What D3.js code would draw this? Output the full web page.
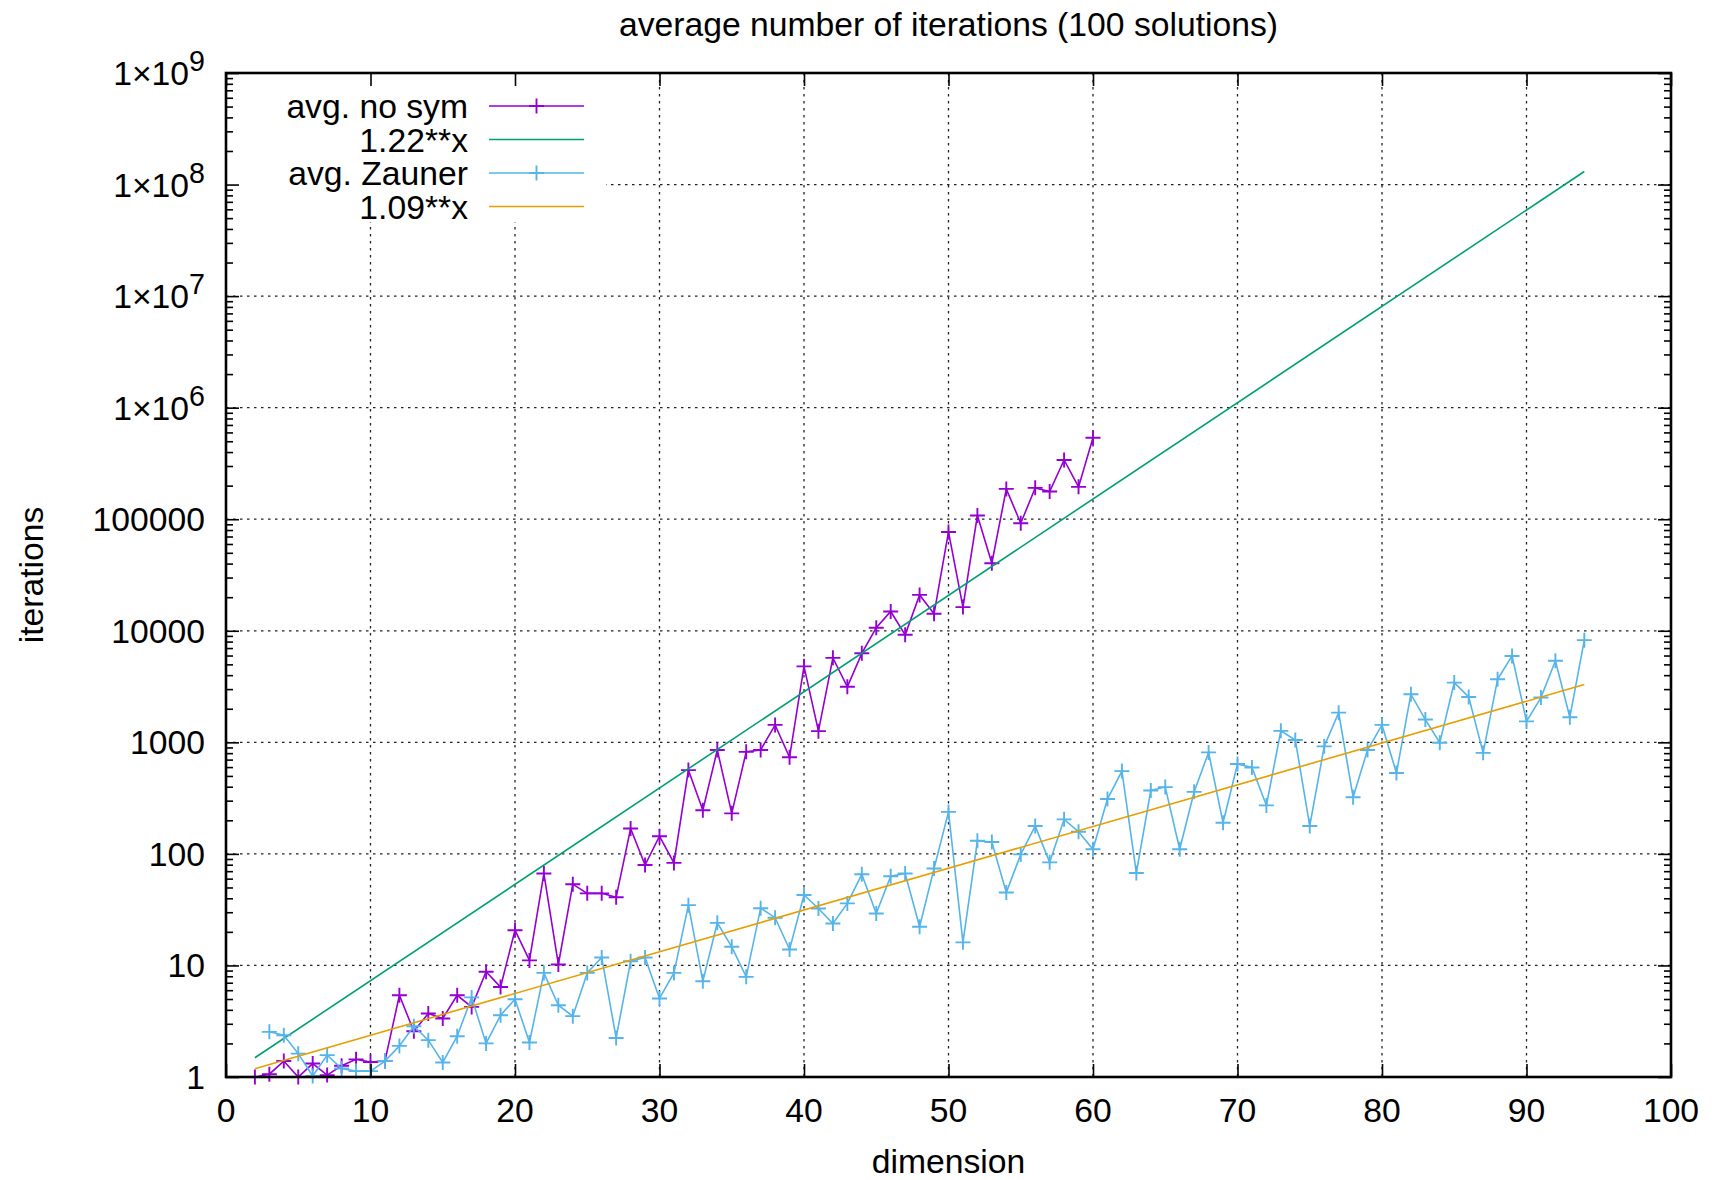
<!DOCTYPE html>
<html>
<head>
<meta charset="utf-8">
<script src="https://cdn.jsdelivr.net/npm/d3@7"></script>
<style>
  body { margin: 0; background: #fff; }
  svg { display: block; font-family: "Liberation Sans", Arial, sans-serif; }
  .grid line { stroke: #222; stroke-width: 1.3; stroke-dasharray: 2.5,4.5; }
</style>
</head>
<body>
<svg id="chart" width="1720" height="1180"></svg>
<script>
// dimensions 2..60 for "no sym", 3..94 for "Zauner"
const noSymDims = d3.range(2, 61);
const noSymValues = [
  1.0, 1.06, 1.39, 1.0, 1.32, 1.04, 1.26, 1.44, 1.36, 1.39,
  5.4, 2.57, 3.71, 3.35, 5.4, 4.25, 8.77, 6.4, 20.7, 11.1,
  66.7, 10.2, 53.5, 44.3, 44.3, 40.8, 169, 79.5, 144, 83,
  564, 246, 854, 231, 822, 854, 1433, 734, 4800, 1260,
  5720, 3150, 6280, 10630, 14900, 9200, 20960, 14200, 76900, 16300,
  108000, 40300, 187000, 92000, 191000, 177000, 340000, 195000, 537000
];

const zaunerDims = d3.range(3, 95);
const zaunerValues = [
  2.54, 2.37, 1.62, 1.02, 1.57, 1.19, 1.13, 1.13, 1.39, 1.90,
  2.85, 2.14, 1.35, 2.32, 5.17, 2.0, 3.58, 4.98, 2.04, 8.57,
  4.4, 3.51, 8.57, 11.8, 2.24, 10.9, 11.8, 5.06, 8.57, 34.7,
  7.22, 24.1, 14.7, 7.9, 32.6, 26.8, 13.9, 42.8, 32.4, 23.8,
  36.0, 65.6, 29.2, 63, 66.7, 22.2, 74, 238, 16.1, 131,
  128, 45.1, 99, 178, 84, 204, 158, 110, 310, 552,
  67.5, 370, 397, 110, 360, 812, 190, 640, 595, 272,
  1268, 1050, 178, 920, 1846, 322, 854, 1433, 531, 2700,
  1600, 992, 3430, 2550, 805, 3680, 5950, 1540, 2520, 5380,
  1680, 8240
];

// fitted curves (straight on log scale): end points
const fitNoSym = [[2, 1.488], [94, 1.31e8]];
const fitZauner = [[2, 1.188], [94, 3294]];

const xTicks = [0, 10, 20, 30, 40, 50, 60, 70, 80, 90, 100];
const yTicks = [1, 10, 100, 1000, 10000, 100000, 1e6, 1e7, 1e8, 1e9];
const yTickLabels = [["1"], ["10"], ["100"], ["1000"], ["10000"], ["100000"],
  ["1×10", "6"], ["1×10", "7"], ["1×10", "8"], ["1×10", "9"]];

const legendLabels = ["avg. no sym", "1.22**x", "avg. Zauner", "1.09**x"];
const colors = ["#9400d3", "#009e73", "#56b4e9", "#e69f00"];

const mLeft = 226, mRight = 1671, mTop = 73, mBottom = 1077;
const fontSize = 33.7;

const svg = d3.select("#chart");
const x = d3.scaleLinear().domain([0, 100]).range([mLeft, mRight]);
const y = d3.scaleLog().domain([1, 1e9]).range([mBottom, mTop]);

// grid
const grid = svg.append("g").attr("class", "grid");
grid.selectAll(".gx").data(xTicks.slice(1, -1)).enter().append("line")
  .attr("x1", d => x(d)).attr("x2", d => x(d))
  .attr("y1", mTop).attr("y2", mBottom);
grid.selectAll(".gy").data(yTicks.slice(1, -1)).enter().append("line")
  .attr("x1", mLeft).attr("x2", mRight)
  .attr("y1", d => y(d)).attr("y2", d => y(d));

// key area hides grid
svg.append("rect").attr("x", mLeft + 1).attr("y", mTop + 1)
  .attr("width", 605 - mLeft).attr("height", 221 - mTop).attr("fill", "#fff");

const line = d3.line().x(d => x(d[0])).y(d => y(d[1]));

function plus(g, pts, color) {
  g.selectAll(null).data(pts).enter().append("path")
    .attr("d", d => `M${x(d[0]) - 7.5},${y(d[1])}h15M${x(d[0])},${y(d[1]) - 7.5}v15`)
    .attr("stroke", color).attr("stroke-width", 1.9).attr("fill", "none");
}

const noSym = noSymDims.map((d, i) => [d, noSymValues[i]]);
const zauner = zaunerDims.map((d, i) => [d, zaunerValues[i]]);

const series = [
  { pts: noSym, marks: true },
  { pts: fitNoSym, marks: false },
  { pts: zauner, marks: true },
  { pts: fitZauner, marks: false }
];

series.forEach((s, i) => {
  const g = svg.append("g");
  g.append("path").attr("d", line(s.pts))
    .attr("fill", "none").attr("stroke", colors[i]).attr("stroke-width", 1.6);
  if (s.marks) plus(g, s.pts, colors[i]);
});

// axes (gnuplot style: inward ticks, mirrored)
const yMinor = y.ticks(10).filter(v => !yTicks.includes(v));

function tickLines(axis, vals, size) {
  return axis.tickValues(vals).tickSize(-size).tickFormat("");
}
const axes = [
  [d3.axisBottom(x), `translate(0,${mBottom})`, xTicks],
  [d3.axisTop(x), `translate(0,${mTop})`, xTicks],
  [d3.axisLeft(y), `translate(${mLeft},0)`, yTicks],
  [d3.axisRight(y), `translate(${mRight},0)`, yTicks]
];
axes.forEach(([ax, tr, vals]) => {
  svg.append("g").attr("transform", tr).call(tickLines(ax, vals, 13))
    .call(g => g.select(".domain").remove())
    .selectAll("line").attr("stroke", "#000").attr("stroke-width", 1.6);
});
[[d3.axisLeft(y), `translate(${mLeft},0)`], [d3.axisRight(y), `translate(${mRight},0)`]].forEach(([ax, tr]) => {
  svg.append("g").attr("transform", tr).call(tickLines(ax, yMinor, 7))
    .call(g => g.select(".domain").remove())
    .selectAll("line").attr("stroke", "#000").attr("stroke-width", 1.6);
});

// frame
svg.append("rect").attr("x", mLeft).attr("y", mTop)
  .attr("width", mRight - mLeft).attr("height", mBottom - mTop)
  .attr("fill", "none").attr("stroke", "#000").attr("stroke-width", 2.6);

// tick labels
svg.append("g").selectAll("text").data(xTicks).enter().append("text")
  .attr("x", d => x(d)).attr("y", 1122)
  .attr("text-anchor", "middle").attr("font-size", fontSize)
  .text(d => d);

yTicks.forEach((v, i) => {
  const t = svg.append("text").attr("x", 205).attr("y", y(v) + 12)
    .attr("text-anchor", "end").attr("font-size", fontSize);
  t.append("tspan").text(yTickLabels[i][0]);
  if (yTickLabels[i][1]) {
    t.append("tspan").attr("dy", -14).attr("font-size", fontSize * 0.85).text(yTickLabels[i][1]);
  }
});

// titles
svg.append("text").attr("x", (mLeft + mRight) / 2).attr("y", 36)
  .attr("text-anchor", "middle").attr("font-size", fontSize)
  .text("average number of iterations (100 solutions)");
svg.append("text").attr("x", (mLeft + mRight) / 2).attr("y", 1173)
  .attr("text-anchor", "middle").attr("font-size", fontSize)
  .text("dimension");
svg.append("text").attr("transform", "translate(43,575) rotate(-90)")
  .attr("text-anchor", "middle").attr("font-size", fontSize)
  .text("iterations");

// legend
const legendY = [106, 139.5, 173, 206.5];
legendLabels.forEach((lab, i) => {
  const ly = legendY[i];
  svg.append("text").attr("x", 468).attr("y", ly + 12)
    .attr("text-anchor", "end").attr("font-size", fontSize).text(lab);
  svg.append("line").attr("x1", 489).attr("x2", 584)
    .attr("y1", ly).attr("y2", ly)
    .attr("stroke", colors[i]).attr("stroke-width", 1.6);
  if (series[i].marks) {
    svg.append("path").attr("d", `M529,${ly}h15M536.5,${ly - 7.5}v15`)
      .attr("stroke", colors[i]).attr("stroke-width", 1.9);
  }
});
</script>
</body>
</html>
